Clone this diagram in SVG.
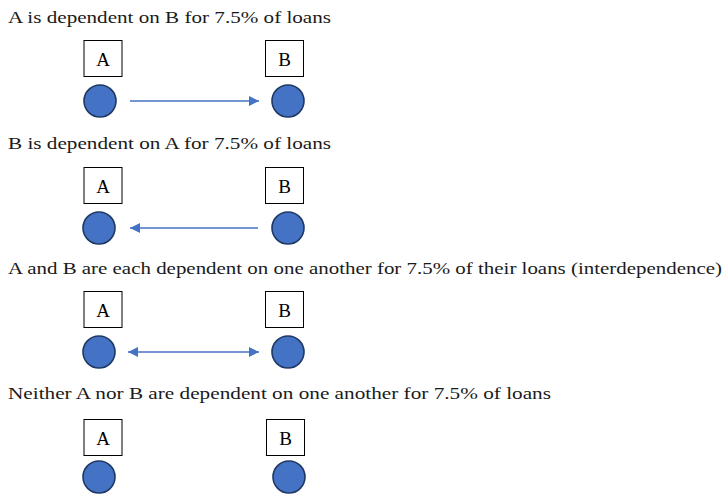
<svg xmlns="http://www.w3.org/2000/svg" width="724" height="494" viewBox="0 0 724 494">
<style>
text{font-family:'Liberation Serif','Times New Roman',serif}
.t{font-size:17.5px;fill:#1a1a1a}
.l{font-size:19px;fill:#000;text-anchor:middle}
.b{fill:#fff;stroke:#000;stroke-width:1}
.c{fill:#4472C4;stroke:#1F3864;stroke-width:1.6}
.e{stroke:#4472C4;stroke-width:1.3;fill:none}
</style>
<defs>
<marker id="ah" viewBox="0 0 10 10" refX="10" refY="5" markerWidth="10" markerHeight="10" markerUnits="userSpaceOnUse" orient="auto-start-reverse">
<path d="M0,0 L10,5 L0,10 z" fill="#4472C4"/>
</marker>
</defs>
<text class="t" x="8" y="23" textLength="323" lengthAdjust="spacingAndGlyphs">A is dependent on B for 7.5% of loans</text>
<text class="t" x="8" y="149" textLength="323" lengthAdjust="spacingAndGlyphs">B is dependent on A for 7.5% of loans</text>
<text class="t" x="8" y="274" textLength="714" lengthAdjust="spacingAndGlyphs">A and B are each dependent on one another for 7.5% of their loans (interdependence)</text>
<text class="t" x="8" y="399" textLength="543" lengthAdjust="spacingAndGlyphs">Neither A nor B are dependent on one another for 7.5% of loans</text>
<g id="row1-A"><rect class="b" x="84" y="40.5" width="38" height="36"/><text class="l" x="103" y="66">A</text><circle class="c" cx="100" cy="101" r="16"/></g>
<g id="row1-B"><rect class="b" x="265.5" y="40.5" width="38" height="36"/><text class="l" x="284.5" y="66">B</text><circle class="c" cx="288" cy="101" r="16"/></g>
<g id="row2-A"><rect class="b" x="84" y="167.5" width="38" height="36"/><text class="l" x="103" y="193">A</text><circle class="c" cx="99" cy="228" r="16"/></g>
<g id="row2-B"><rect class="b" x="265.5" y="167.5" width="38" height="36"/><text class="l" x="284.5" y="193">B</text><circle class="c" cx="288" cy="228" r="16"/></g>
<g id="row3-A"><rect class="b" x="84" y="291.5" width="38" height="36"/><text class="l" x="103" y="317">A</text><circle class="c" cx="99" cy="352" r="16"/></g>
<g id="row3-B"><rect class="b" x="265.5" y="291.5" width="38" height="36"/><text class="l" x="284.5" y="317">B</text><circle class="c" cx="288" cy="352" r="16"/></g>
<g id="row4-A"><rect class="b" x="84" y="419.5" width="38" height="36"/><text class="l" x="103" y="445">A</text><circle class="c" cx="99" cy="477" r="16"/></g>
<g id="row4-B"><rect class="b" x="266.5" y="419.5" width="38" height="36"/><text class="l" x="285.5" y="445">B</text><circle class="c" cx="289" cy="477" r="16"/></g>
<g id="connectors">
<line class="e" x1="130" y1="101" x2="259" y2="101" marker-end="url(#ah)"/>
<line class="e" x1="258" y1="228" x2="130" y2="228" marker-end="url(#ah)"/>
<line class="e" x1="128" y1="352" x2="259" y2="352" marker-start="url(#ah)" marker-end="url(#ah)"/>
</g>
</svg>
